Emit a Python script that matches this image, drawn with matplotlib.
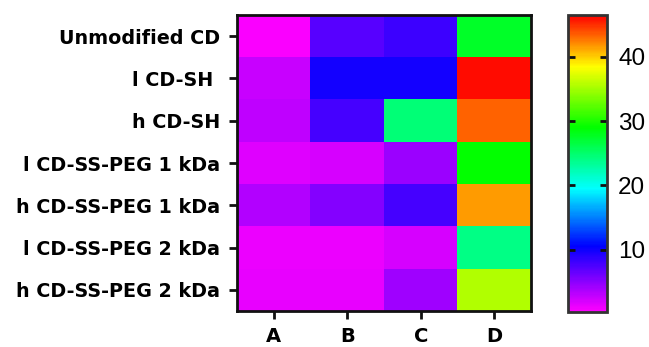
import numpy as np
import matplotlib
matplotlib.use("Agg")
import matplotlib.pyplot as plt
from matplotlib.colors import LinearSegmentedColormap, Normalize

rows = ["Unmodified CD", "l CD-SH ", "h CD-SH", "l CD-SS-PEG 1 kDa",
        "h CD-SS-PEG 1 kDa", "l CD-SS-PEG 2 kDa", "h CD-SS-PEG 2 kDa"]
cols = ["A", "B", "C", "D"]
col_A = [0.5, 2.5, 2.9, 1.7, 3.4, 1.1, 1.3]
col_B = [7.1, 9.7, 7.7, 2.1, 5.3, 1.1, 1.3]
col_C = [8.1, 9.8, 24.5, 4.3, 7.7, 2.1, 4.1]
col_D = [27.5, 46.0, 43.4, 29.0, 41.6, 24.0, 35.5]
cbar_ticks = [10, 20, 30, 40]
vmin, vmax = 0.3, 46.5

data = np.array([col_A, col_B, col_C, col_D]).T

plt.rcParams['font.family'] = ['DejaVu Sans']

stops = [(0.3, (1, 0, 1)), (10.5, (0, 0, 1)), (19.5, (0, 1, 1)),
         (29.0, (0, 1, 0)), (38.5, (1, 1, 0)), (46.5, (1, 0, 0))]
cmap = LinearSegmentedColormap.from_list(
    "rb", [((v - vmin) / (vmax - vmin), c) for v, c in stops])

fig = plt.figure(figsize=(6.49, 3.47), dpi=100)
ax = fig.add_axes([237 / 649, 1 - 311 / 347, (531 - 237) / 649, (311 - 15) / 347])
norm = Normalize(vmin=vmin, vmax=vmax)
im = ax.imshow(data, cmap=cmap, norm=norm, aspect='auto', interpolation='nearest')
ax.set_xticks(range(len(cols)))
ax.set_xticklabels(cols, fontsize=14, fontweight='bold')
ax.set_yticks(range(len(rows)))
ax.set_yticklabels(rows, fontsize=13.8, fontweight='bold')
ax.tick_params(axis='both', direction='out', length=5.5, width=2, color='#111111')
ax.tick_params(axis='y', pad=6.5)
ax.tick_params(axis='x', pad=6)
for s in ax.spines.values():
    s.set_linewidth(2)
    s.set_color('#111111')

cax = fig.add_axes([568 / 649, 1 - 312 / 347, (607 - 568) / 649, (312 - 15) / 347])
cb = fig.colorbar(im, cax=cax, ticks=cbar_ticks)
cb.outline.set_linewidth(2)
cb.outline.set_edgecolor('#333333')
cax.tick_params(axis='y', direction='in', length=5, width=2, color='#111111',
                left=True, right=True, pad=8)
for t in cax.get_yticklabels():
    t.set_fontfamily(['Liberation Sans', 'DejaVu Sans'])
    t.set_fontsize(17.5)

fig.savefig("out.png", dpi=100)
